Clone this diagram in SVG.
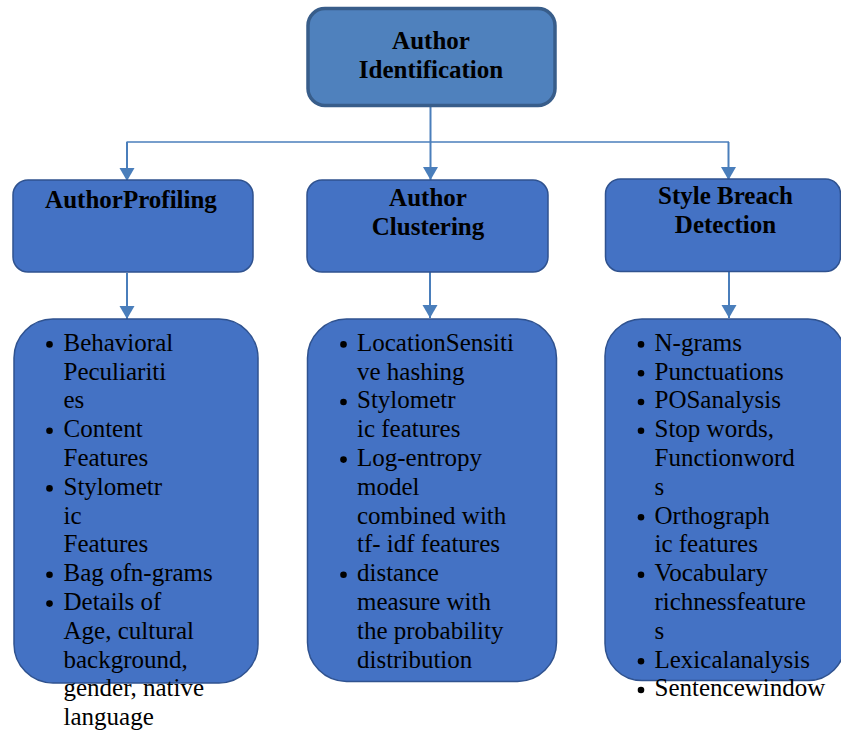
<svg xmlns="http://www.w3.org/2000/svg" width="841" height="736" viewBox="0 0 841 736">
<defs>
<marker id="arr" markerUnits="userSpaceOnUse" markerWidth="14" markerHeight="16" refX="13" refY="7.5" orient="auto">
<path d="M0,0 L13,7.5 L0,15 z" fill="#4a7ebb"/>
</marker>
<style>
.root{fill:#4f81bd;stroke:#385d8a;stroke-width:3.5}
.box{fill:#4472c4;stroke:#2f528f;stroke-width:1.5}
.hd{font-family:"Liberation Serif","Times New Roman",serif;font-size:25px;font-weight:bold;fill:#000;text-anchor:middle}
.li{font-family:"Liberation Serif","Times New Roman",serif;font-size:25px;fill:#000}
.bul{fill:#000}
.cn{fill:none;stroke:#4a7ebb;stroke-width:2}
.cnh{fill:none;stroke:#4a7ebb;stroke-width:1.5}
</style>
</defs>
<rect width="841" height="736" fill="#fff"/>

<g id="connectors">
<path class="cnh" d="M126.5,142 H729"/>
<path class="cn" d="M430.5,107 V180" marker-end="url(#arr)"/>
<path class="cn" d="M127,142 V181" marker-end="url(#arr)"/>
<path class="cn" d="M728.5,142 V180" marker-end="url(#arr)"/>
<path class="cn" d="M127,273 V319" marker-end="url(#arr)"/>
<path class="cn" d="M430,272 V318" marker-end="url(#arr)"/>
<path class="cn" d="M729,272 V318" marker-end="url(#arr)"/>
</g>

<g id="author-identification">
<rect class="root" x="308" y="8.5" width="247" height="97" rx="17"/>
<text class="hd" x="431" y="48.5">Author</text>
<text class="hd" x="431" y="77.5">Identification</text>
</g>

<g id="author-profiling">
<rect class="box" x="13" y="180" width="240" height="92" rx="15"/>
<text class="hd" x="131" y="207.5">AuthorProfiling</text>
</g>

<g id="author-clustering">
<rect class="box" x="307" y="180" width="241" height="92" rx="15"/>
<text class="hd" x="428" y="206">Author</text>
<text class="hd" x="428" y="235">Clustering</text>
</g>

<g id="style-breach-detection">
<rect class="box" x="605.5" y="179" width="235" height="92.5" rx="15"/>
<text class="hd" x="725.5" y="203.5">Style Breach</text>
<text class="hd" x="725.5" y="232.5">Detection</text>
</g>

<g id="profiling-features">
<rect class="box" x="14" y="319" width="244" height="364" rx="39"/>
<g class="bul">
<circle cx="49.5" cy="344.4" r="3.3"/>
<circle cx="49.5" cy="430.8" r="3.3"/>
<circle cx="49.5" cy="488.4" r="3.3"/>
<circle cx="49.5" cy="574.8" r="3.3"/>
<circle cx="49.5" cy="603.6" r="3.3"/>
</g>
<text class="li" y="350.7">
<tspan x="63.5">Behavioral</tspan>
<tspan x="63.5" dy="28.8">Peculiariti</tspan>
<tspan x="63.5" dy="28.8">es</tspan>
<tspan x="63.5" dy="28.8">Content</tspan>
<tspan x="63.5" dy="28.8">Features</tspan>
<tspan x="63.5" dy="28.8">Stylometr</tspan>
<tspan x="63.5" dy="28.8">ic</tspan>
<tspan x="63.5" dy="28.8">Features</tspan>
<tspan x="63.5" dy="28.8">Bag ofn-grams</tspan>
<tspan x="63.5" dy="28.8">Details of</tspan>
<tspan x="63.5" dy="28.8">Age, cultural</tspan>
<tspan x="63.5" dy="28.8">background,</tspan>
<tspan x="63.5" dy="28.8">gender, native</tspan>
<tspan x="63.5" dy="28.8">language</tspan>
</text>
</g>

<g id="clustering-features">
<rect class="box" x="307.5" y="319" width="249" height="362.5" rx="39"/>
<g class="bul">
<circle cx="343.5" cy="344.4" r="3.3"/>
<circle cx="343.5" cy="402" r="3.3"/>
<circle cx="343.5" cy="459.6" r="3.3"/>
<circle cx="343.5" cy="574.8" r="3.3"/>
</g>
<text class="li" y="350.7">
<tspan x="357">LocationSensiti</tspan>
<tspan x="357" dy="28.8">ve hashing</tspan>
<tspan x="357" dy="28.8">Stylometr</tspan>
<tspan x="357" dy="28.8">ic features</tspan>
<tspan x="357" dy="28.8">Log-entropy</tspan>
<tspan x="357" dy="28.8">model</tspan>
<tspan x="357" dy="28.8">combined with</tspan>
<tspan x="357" dy="28.8">tf- idf features</tspan>
<tspan x="357" dy="28.8">distance</tspan>
<tspan x="357" dy="28.8">measure with</tspan>
<tspan x="357" dy="28.8">the probability</tspan>
<tspan x="357" dy="28.8">distribution</tspan>
</text>
</g>

<g id="style-breach-features">
<rect class="box" x="605" y="319" width="240" height="361.5" rx="37"/>
<g class="bul">
<circle cx="641" cy="344.4" r="3.3"/>
<circle cx="641" cy="373.2" r="3.3"/>
<circle cx="641" cy="402" r="3.3"/>
<circle cx="641" cy="430.8" r="3.3"/>
<circle cx="641" cy="517.2" r="3.3"/>
<circle cx="641" cy="574.8" r="3.3"/>
<circle cx="641" cy="661.2" r="3.3"/>
<circle cx="641" cy="690" r="3.3"/>
</g>
<text class="li" y="350.7">
<tspan x="654.5">N-grams</tspan>
<tspan x="654.5" dy="28.8">Punctuations</tspan>
<tspan x="654.5" dy="28.8">POSanalysis</tspan>
<tspan x="654.5" dy="28.8">Stop words,</tspan>
<tspan x="654.5" dy="28.8">Functionword</tspan>
<tspan x="654.5" dy="28.8">s</tspan>
<tspan x="654.5" dy="28.8">Orthograph</tspan>
<tspan x="654.5" dy="28.8">ic features</tspan>
<tspan x="654.5" dy="28.8">Vocabulary</tspan>
<tspan x="654.5" dy="28.8">richnessfeature</tspan>
<tspan x="654.5" dy="28.8">s</tspan>
<tspan x="654.5" dy="28.8">Lexicalanalysis</tspan>
<tspan x="654.5" dy="28.8">Sentencewindow</tspan>
</text>
</g>
</svg>
